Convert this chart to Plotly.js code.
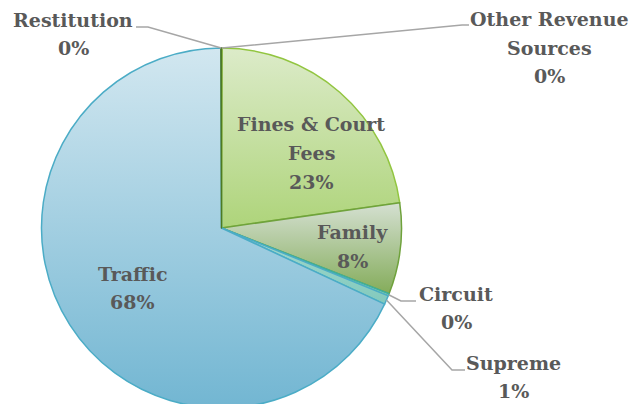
<!DOCTYPE html>
<html>
<head>
<meta charset="utf-8">
<script src="https://cdn.plot.ly/plotly-3.0.1.min.js"></script>
<style>
html,body{margin:0;padding:0;overflow:hidden;background:#fff;}
#chart{width:634px;height:420px;}
</style>
</head>
<body>
<div id="chart"></div>
<script>
// ---- data ----
const categories = ["Other Revenue Sources", "Fines & Court Fees", "Family", "Circuit", "Supreme", "Traffic", "Restitution"];
const values = [0.05, 22.7, 8.2, 0.2, 0.8, 68.0, 0.05];
const shownPercent = ["0%", "23%", "8%", "0%", "1%", "68%", "0%"];
const labelLines = [["Other Revenue", "Sources"], ["Fines & Court", "Fees"], ["Family"], ["Circuit"], ["Supreme"], ["Traffic"], ["Restitution"]];

// ---- styling ----
const fillColors = ["#c4df9f", "#c4df9f", "#aec79a", "#94d2c3", "#92d0c4", "#a3cde0", "#5a8a2c"];
const lineColors = ["#5a8a2c", "#92c540", "#6fa23c", "#3fae9c", "#4bacc6", "#4bacc6", "#4f7a22"];
const gradStops = [
  ["#dcebc9", "#aed47a"],
  ["#dcebc9", "#aed47a"],
  ["#d5e0d2", "#84ac5a"],
  ["#aadccf", "#80cab8"],
  ["#a4dacd", "#82c9bd"],
  ["#d2e7f0", "#72b6d2"],
  ["#5a8a2c", "#5a8a2c"]
];
const W = 634, H = 420;
const CX = 221.5, CY = 228, R = 180;
const textColor = "#595959";
const fontFam = "DejaVu Serif";
const fontSize = 19;
const lineGap = 28.5;

const labelPos = [
  {x: 549, y: 47.5, type: "out", elbow: [462, 25], end: [469, 25]},
  {x: 311, y: 153, type: "in"},
  {x: 352, y: 246.5, type: "in"},
  {x: 456, y: 308, type: "out", elbow: [401, 301], end: [416, 301]},
  {x: 513, y: 377, type: "out", elbow: [452, 370], end: [465, 370]},
  {x: 132, y: 288, type: "in"},
  {x: 73, y: 34, type: "out", elbow: [148, 27], end: [136, 27]}
];

const toPaper = (X, Y) => [X / W, (H - Y) / H];

const total = values.reduce((a, b) => a + b, 0);
let cum = 0;
const rimPts = values.map(v => {
  const mid = (cum + v / 2) / total;
  cum += v;
  const a = 2 * Math.PI * mid;
  return [CX + R * Math.sin(a), CY - R * Math.cos(a)];
});

const annotations = [];
const shapes = [];
categories.forEach((c, i) => {
  const p = labelPos[i];
  const lines = labelLines[i].concat([shownPercent[i]]);
  const n = lines.length;
  lines.forEach((ln, k) => {
    const [ax, ay] = toPaper(p.x, p.y + (k - (n - 1) / 2) * lineGap);
    annotations.push({
      xref: "paper", yref: "paper", x: ax, y: ay,
      xanchor: "center", yanchor: "middle",
      text: "<b>" + ln + "</b>", showarrow: false, align: "center",
      font: {family: fontFam, size: fontSize, color: textColor}
    });
  });
  if (p.type === "out") {
    const pts = [rimPts[i], p.elbow, p.end].map(q => toPaper(q[0], q[1]));
    shapes.push({
      type: "path", xref: "paper", yref: "paper",
      path: "M" + pts.map(q => q[0] + "," + q[1]).join(" L"),
      line: {color: "#a6a6a6", width: 1.5}
    });
  }
});

const trace = {
  type: "pie",
  labels: categories,
  values: values,
  sort: false,
  direction: "clockwise",
  rotation: 0,
  textinfo: "none",
  hoverinfo: "skip",
  marker: {colors: fillColors, line: {color: lineColors, width: 1.5}},
  domain: {x: [(CX - R) / W, (CX + R) / W], y: [(H - CY - R) / H, (H - CY + R) / H]}
};

const layout = {
  width: W, height: H,
  margin: {l: 0, r: 0, t: 0, b: 0},
  paper_bgcolor: "#ffffff",
  showlegend: false,
  font: {family: fontFam},
  annotations: annotations,
  shapes: shapes
};

Plotly.newPlot("chart", [trace], layout, {staticPlot: true, displayModeBar: false}).then(gd => {
  const svg = gd.querySelector("svg.main-svg");
  const ns = "http://www.w3.org/2000/svg";
  let defs = svg.querySelector("defs");
  if (!defs) { defs = document.createElementNS(ns, "defs"); svg.insertBefore(defs, svg.firstChild); }
  gradStops.forEach((s, i) => {
    const g = document.createElementNS(ns, "linearGradient");
    g.setAttribute("id", "sliceGrad" + i);
    g.setAttribute("x1", "0"); g.setAttribute("y1", "0");
    g.setAttribute("x2", "0"); g.setAttribute("y2", "1");
    [[0, s[0]], [1, s[1]]].forEach(st => {
      const e = document.createElementNS(ns, "stop");
      e.setAttribute("offset", st[0]);
      e.setAttribute("stop-color", st[1]);
      g.appendChild(e);
    });
    defs.appendChild(g);
  });
  const paths = gd.querySelectorAll("g.slice path.surface");
  paths.forEach((p, i) => {
    if (i < gradStops.length) p.style.fill = "url(#sliceGrad" + i + ")";
  });
});
</script>
</body>
</html>
